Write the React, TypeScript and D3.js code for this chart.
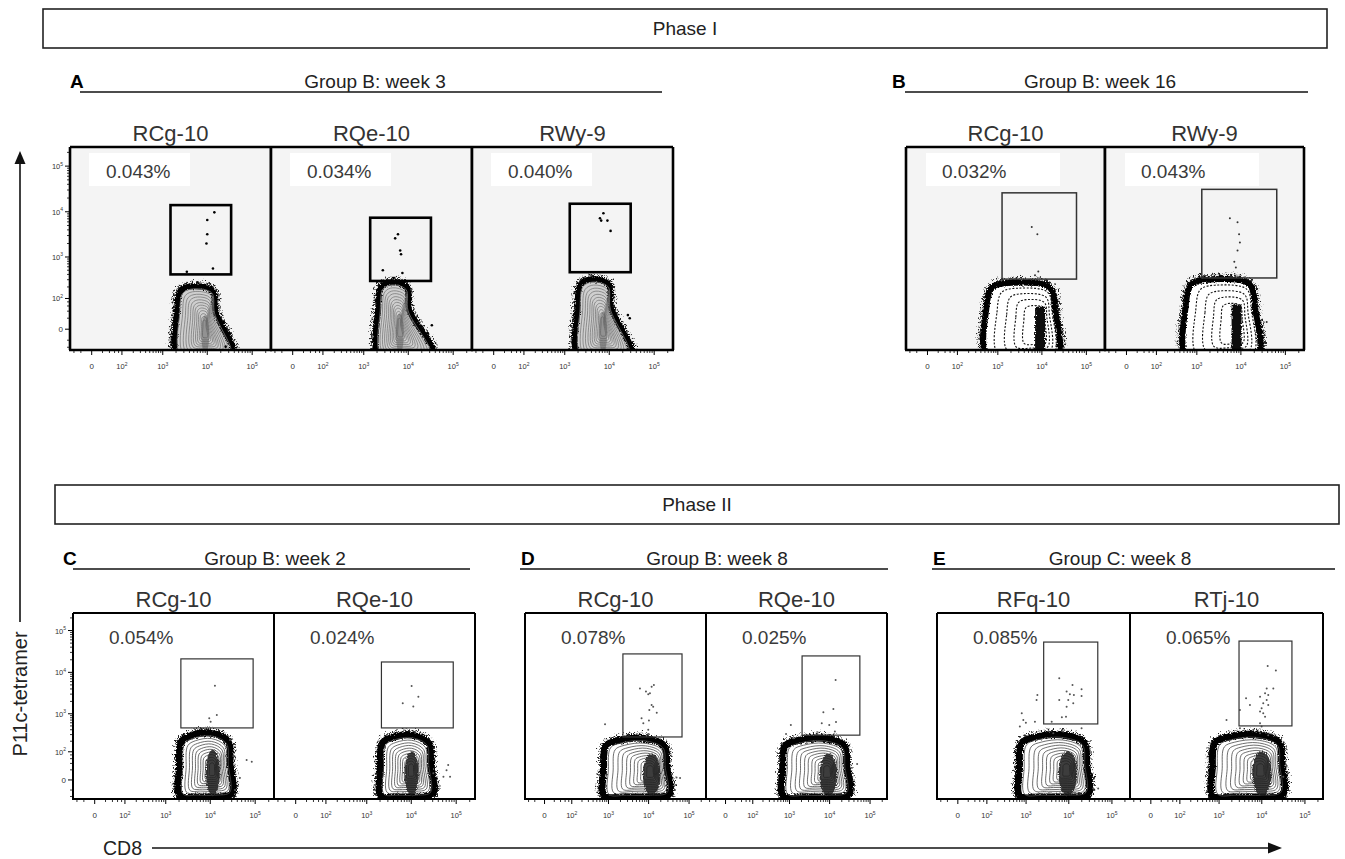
import React from "react";
import * as d3 from "d3";

const FONT = "'Liberation Sans', Arial, Helvetica, sans-serif";

// ---------- data ----------
const phaseLabels = ["Phase I", "Phase II"];
const groupLetters = ["A", "B", "C", "D", "E"];
const groupTitles = [
  "Group B: week 3",
  "Group B: week 16",
  "Group B: week 2",
  "Group B: week 8",
  "Group C: week 8",
];
const animalNames = [
  ["RCg-10", "RQe-10", "RWy-9"],
  ["RCg-10", "RWy-9"],
  ["RCg-10", "RQe-10"],
  ["RCg-10", "RQe-10"],
  ["RFq-10", "RTj-10"],
];
// % of CD8+ cells inside the tetramer gate
const tetramerPercents = [
  [0.043, 0.034, 0.04],
  [0.032, 0.043],
  [0.054, 0.024],
  [0.078, 0.025],
  [0.085, 0.065],
];
// tetramer+ gate: [CD8 low, CD8 high, tetramer low, tetramer high]
const gateBounds = [
  [[1500, 34000, 400, 14000], [1400, 32000, 280, 7400], [1300, 30000, 450, 15000]],
  [[1250, 60000, 310, 26000], [1300, 64000, 330, 31000]],
  [[2200, 90000, 445, 21000], [2150, 86000, 445, 17700]],
  [[2300, 67000, 260, 27600], [2070, 56000, 290, 24700]],
  [[2600, 47000, 560, 53000], [2950, 50000, 500, 56000]],
];
// bulk CD8+ tetramer- population: [CD8 left edge, CD8 shoulder, CD8 tail, tetramer top, CD8 mode]
const bulkPopulations = [
  [[2150, 15300, 39000, 200, 9000], [2170, 10400, 37500, 250, 6500], [2000, 11000, 32000, 295, 7300]],
  [[550, 19800, 22000, 245, 9100], [560, 20800, 24000, 295, 8000]],
  [[2100, 27500, 30000, 290, 11400], [2100, 27000, 30000, 260, 10200]],
  [[770, 28000, 32000, 215, 11900], [690, 26500, 30000, 215, 9300]],
  [[710, 26000, 28000, 265, 9500], [710, 29000, 31000, 265, 10000]],
];
// individual events drawn as dots: [CD8, tetramer]
const singleEvents = [
  [
    [[14400, 9700], [10000, 6600], [10000, 3200], [9600, 2000], [13400, 550], [3500, 460],
     [23300, 12], [31800, -6], [35000, -28], [25700, -38]],
    [[5900, 3200], [5100, 2600], [6600, 1400], [6900, 1150], [2700, 500], [7400, 430], [4700, 330],
     [33500, 6], [27300, -6], [37000, -36]],
    [[7400, 9300], [6200, 7200], [6600, 6400], [9100, 6400], [10700, 3800],
     [26000, 28], [28600, 20], [21000, 0], [31800, -46]],
  ],
  [
    [[5900, 4600], [7900, 3200], [8300, 470], [7000, 380]],
    [[5650, 7200], [8400, 5900], [9100, 3200], [9500, 2100], [8400, 1400], [7100, 780], [7700, 580], [38000, 12]],
  ],
  [
    [[12700, 4800], [14000, 930], [9500, 780], [10200, 640],
     [32700, 74], [64500, 54], [84000, 46], [45500, 3], [35600, -20], [27500, 215], [23300, 140]],
    [[10200, 4700], [14400, 2600], [6450, 1800], [11100, 1500],
     [66500, 34], [61000, 19], [52000, 5], [73000, 5], [31000, 12], [26000, -5]],
  ],
  [
    [[6100, 4100], [8600, 3450], [9800, 3000], [11900, 4500], [13500, 5000], [10800, 3150], [11900, 1640],
     [13000, 1490], [10400, 1240], [15900, 1060], [6700, 775], [10200, 680], [7400, 580], [9800, 400],
     [10000, 310], [815, 550], [45000, -20], [60000, 3], [49000, 4]],
    [[14100, 6600], [7000, 1090], [12400, 1300], [6400, 580], [9800, 525], [14400, 630], [13500, 360],
     [1080, 525], [815, 310], [1240, 240], [48000, 38], [40000, -21]],
  ],
  [
    [[6000, 7200], [12200, 5000], [19800, 3950], [8900, 3450], [10600, 3000], [13100, 2870], [19800, 2700],
     [6000, 2150], [9700, 2150], [12700, 1800], [8900, 1490], [8600, 850], [6900, 825], [4000, 635],
     [1850, 2870], [1770, 2150], [790, 1030], [860, 705], [990, 600], [1620, 635], [710, 480],
     [19800, 435], [7400, 360], [4350, 325], [36800, -16], [48000, -16]],
    [[13700, 14200], [21200, 11000], [13000, 4100], [18500, 4100], [11900, 3150], [14100, 2870], [9100, 2600],
     [13000, 2150], [10800, 1800], [14100, 1640], [9900, 1360], [9100, 1130], [10800, 1030], [11900, 850],
     [4300, 2380], [5300, 1640], [3100, 1240], [1500, 705], [9100, 580], [9900, 480], [6300, 395],
     [3100, 435], [9100, 325], [14100, 290], [37500, 29], [41000, 12], [31500, 5]],
  ],
];
const majorTicks = [0, 1e2, 1e3, 1e4, 1e5];

// ---------- layout ----------
const LIN_C = 27;
const X_DOMAIN: [number, number] = [-55, 262144];
const Y_DOMAIN: [number, number] = [-50, 262144];

const phaseBoxes = [
  { x: 43, y: 9, w: 1284, h: 39 },
  { x: 55, y: 485, w: 1284, h: 39 },
];

type Frame = {
  x0: number; w: number; y0: number; h: number;
  lineX1: number; lineX2: number; lineY: number; titleX: number;
  letterX: number; style: "A" | "B" | "C"; yLabels: boolean; frameW: number;
};
const groupFrames: Frame[] = [
  { x0: 70, w: 201, y0: 147, h: 203, lineX1: 80, lineX2: 662, lineY: 92, titleX: 375, letterX: 70, style: "A", yLabels: true, frameW: 2.6 },
  { x0: 906, w: 199, y0: 147, h: 203, lineX1: 905, lineX2: 1308, lineY: 92, titleX: 1100, letterX: 892, style: "B", yLabels: false, frameW: 2.6 },
  { x0: 73, w: 201, y0: 613, h: 186, lineX1: 73, lineX2: 470, lineY: 569, titleX: 275, letterX: 63, style: "C", yLabels: true, frameW: 2 },
  { x0: 525, w: 181, y0: 613, h: 186, lineX1: 520, lineX2: 888, lineY: 569, titleX: 717, letterX: 521, style: "C", yLabels: false, frameW: 2 },
  { x0: 937, w: 193, y0: 613, h: 186, lineX1: 932, lineX2: 1335, lineY: 569, titleX: 1120, letterX: 933, style: "C", yLabels: false, frameW: 2 },
];

const minorTicks: number[] = [-40, -20, 20, 40, 60, 80];
[2, 3, 4].forEach((k) => {
  for (let d = 2; d <= 9; d++) minorTicks.push(d * Math.pow(10, k));
});
minorTicks.push(2e5);

const closed = d3.line<[number, number]>().curve(d3.curveCatmullRomClosed.alpha(0.5));

function makeX(x0: number, w: number) {
  return d3.scaleSymlog().constant(LIN_C).domain(X_DOMAIN).range([x0, x0 + w]);
}
function makeY(y0: number, h: number) {
  return d3.scaleSymlog().constant(LIN_C).domain(Y_DOMAIN).range([y0 + h, y0]);
}

function TickLabel({ v, x, y, anchor }: { v: number; x: number; y: number; anchor: "middle" | "end" }) {
  if (v === 0)
    return (
      <text x={x} y={y} fontSize={8} textAnchor={anchor} fill="#333">0</text>
    );
  const e = Math.round(Math.log10(v));
  return (
    <text x={x} y={y} fontSize={7.5} textAnchor={anchor} fill="#333">
      10<tspan dy={-3.5} fontSize={5}>{e}</tspan>
    </text>
  );
}

function Population({ pop, sx, sy, yb, style }: any) {
  const [L, S, T, top, mode] = pop;
  const xl = sx(L), xs = sx(S), xt = sx(T), yt = sy(top), xc = sx(mode);
  const hh = yb - yt;
  const ww = xs - xl;
  const base = style === "C" ? yb - 3 : yb + 6;
  const outline: [number, number][] =
    style === "C"
      ? [
          [xl, base],
          [xl - 0.5, yt + 0.5 * hh],
          [xl + 0.03 * ww, yt + 0.1 * hh],
          [xl + 0.22 * ww, yt + 0.01 * hh],
          [xl + 0.62 * ww, yt - 0.03 * hh],
          [xs - 0.04 * ww, yt + 0.1 * hh],
          [xs, yt + 0.45 * hh],
          [xt, base - 2],
          [xl + 0.7 * (xt - xl), base + 1],
          [xl + 0.3 * (xt - xl), base + 1],
        ]
      : [
          [xl, base],
          [xl - 0.5, yt + 0.4 * hh],
          [xl + 0.08 * ww, yt + 0.06 * hh],
          [xl + 0.4 * ww, yt - 0.01 * hh],
          [xs - 0.08 * ww, yt + 0.06 * hh],
          [xs, yt + 0.4 * hh],
          [xt, base],
          [(xl + xt) / 2, base + 2],
        ];
  const ya = yb - (style === "C" ? 0.45 : 0.3) * hh;
  const levels =
    style === "A"
      ? [0.9, 0.8, 0.7, 0.61, 0.52, 0.44, 0.37, 0.3, 0.24, 0.18, 0.13, 0.08]
      : style === "B"
      ? [0.8, 0.62, 0.45, 0.3]
      : [0.9, 0.8, 0.7, 0.61, 0.52, 0.44, 0.36, 0.29, 0.22, 0.16, 0.1];
  const yPow = style === "C" ? 0.7 : 0.55;
  const rings = levels.map((t) => {
    const ty = Math.pow(t, yPow);
    return outline.map(([x, y]) => [xc + (x - xc) * t, ya + (y - ya) * ty] as [number, number]);
  });
  const fill = style === "A" ? "#cfcfcf" : "#fff";
  const ringColor = style === "A" ? "#7a7a7a" : style === "B" ? "#111" : "#4a4a4a";
  return (
    <g>
      <path d={closed(outline)!} fill="none" stroke="#000" strokeWidth={11}
        strokeDasharray="1.6 2.2" filter="url(#speckle)" opacity={0.85} />
      <path d={closed(outline)!} fill={fill} stroke="#000" strokeWidth={style === "C" ? 7 : 6} filter="url(#rough)" />
      {rings.map((r, i) => (
        <path key={i} d={closed(r)!} fill="none" stroke={ringColor}
          strokeWidth={style === "B" ? 1.1 : 0.8}
          strokeDasharray={style === "B" ? "2 1.6" : undefined} />
      ))}
      {style === "B" ? (
        <rect x={xc - 5} y={yt + 0.35 * hh} width={10} height={hh} fill="#111" filter="url(#rough)" />
      ) : style === "A" ? (
        <ellipse cx={xc} cy={ya + 0.05 * hh} rx={Math.max(4, 0.1 * ww)} ry={0.3 * hh}
          fill="#555" opacity={0.5} />
      ) : (
        <ellipse cx={xc} cy={ya + 0.04 * hh} rx={Math.max(5, 0.14 * ww)} ry={0.36 * hh}
          fill="#1c1c1c" opacity={0.85} filter="url(#rough)" />
      )}
    </g>
  );
}

function Panel({ g, p, f }: { g: number; p: number; f: Frame }) {
  const x0 = f.x0 + p * f.w;
  const sx = makeX(x0, f.w);
  const sy = makeY(f.y0, f.h);
  const yb = f.y0 + f.h;
  const gate = gateBounds[g][p];
  const clipId = `clip-${g}-${p}`;
  const bg = f.style === "C" ? "#fff" : "#f4f4f4";
  const gateStroke = f.style === "A" ? 2.6 : f.style === "B" ? 1.5 : 1.2;
  const gateColor = f.style === "A" ? "#000" : "#333";
  const dotR = f.style === "A" ? 1.3 : 1;
  const dotColor = f.style === "A" ? "#000" : f.style === "B" ? "#333" : "#555";
  return (
    <g>
      <defs>
        <clipPath id={clipId}>
          <rect x={x0} y={f.y0} width={f.w} height={f.h} />
        </clipPath>
      </defs>
      <rect x={x0} y={f.y0} width={f.w} height={f.h} fill={bg} />
      {f.style !== "C" && (
        <rect x={x0 + (f.style === "A" ? 19 : 20)} y={f.y0 + 6} width={f.style === "A" ? 101 : 134} height={33} fill="#fff" />
      )}
      <text x={x0 + 36} y={f.y0 + 31} fontSize={19} fill="#3a3a3a">
        {tetramerPercents[g][p].toFixed(3)}%
      </text>
      <g clipPath={`url(#${clipId})`}>
        <Population pop={bulkPopulations[g][p]} sx={sx} sy={sy} yb={yb} style={f.style} />
        {singleEvents[g][p].map(([cx, ty], i) => (
          <circle key={i} cx={sx(cx)} cy={sy(ty)} r={dotR} fill={dotColor} />
        ))}
      </g>
      <rect
        x={sx(gate[0])}
        y={sy(gate[3])}
        width={sx(gate[1]) - sx(gate[0])}
        height={sy(gate[2]) - sy(gate[3])}
        fill="none"
        stroke={gateColor}
        strokeWidth={gateStroke}
      />
      {/* x axis ticks */}
      {majorTicks.map((v) => (
        <line key={"M" + v} x1={sx(v)} x2={sx(v)} y1={yb} y2={yb + 5} stroke="#000" strokeWidth={1} />
      ))}
      {minorTicks.map((v) => (
        <line key={"m" + v} x1={sx(v)} x2={sx(v)} y1={yb} y2={yb + 3} stroke="#000" strokeWidth={0.8} />
      ))}
      {majorTicks.map((v) => (
        <TickLabel key={"L" + v} v={v} x={sx(v)} y={yb + 19} anchor="middle" />
      ))}
      {p === 0 && f.yLabels && (
        <g>
          {majorTicks.map((v) => (
            <line key={"yM" + v} x1={x0 - 5} x2={x0} y1={sy(v)} y2={sy(v)} stroke="#000" strokeWidth={1} />
          ))}
          {minorTicks.map((v) => (
            <line key={"ym" + v} x1={x0 - 3} x2={x0} y1={sy(v)} y2={sy(v)} stroke="#000" strokeWidth={0.8} />
          ))}
          {majorTicks.map((v) => (
            <TickLabel key={"yL" + v} v={v} x={x0 - 7} y={sy(v) + 3} anchor="end" />
          ))}
        </g>
      )}
      {/* frame: left, top, right borders and bottom axis line */}
      <line x1={x0} x2={x0 + f.w} y1={f.y0} y2={f.y0} stroke="#000" strokeWidth={f.frameW} />
      <line x1={x0} x2={x0} y1={f.y0} y2={yb} stroke="#000" strokeWidth={f.frameW} />
      <line x1={x0 + f.w} x2={x0 + f.w} y1={f.y0} y2={yb} stroke="#000" strokeWidth={f.frameW} />
      <line x1={x0 - 1} x2={x0 + f.w + 1} y1={yb} y2={yb} stroke="#000" strokeWidth={f.frameW} />
      <text x={x0 + f.w / 2} y={f.y0 - 6} fontSize={22} textAnchor="middle" fill="#333">
        {animalNames[g][p]}
      </text>
    </g>
  );
}

export default function App() {
  return (
    <div style={{ position: "absolute", left: 0, top: 0 }}>
      <svg width={1345} height={859} fontFamily={FONT} style={{ display: "block", background: "#fff" }}>
        <defs>
          <filter id="rough" x="-20%" y="-20%" width="140%" height="140%">
            <feTurbulence type="fractalNoise" baseFrequency="0.9" numOctaves={2} seed={4} result="n" />
            <feDisplacementMap in="SourceGraphic" in2="n" scale={4} xChannelSelector="R" yChannelSelector="G" />
          </filter>
          <filter id="speckle" x="-20%" y="-20%" width="140%" height="140%">
            <feTurbulence type="fractalNoise" baseFrequency="0.6" numOctaves={2} seed={9} result="n" />
            <feDisplacementMap in="SourceGraphic" in2="n" scale={9} xChannelSelector="R" yChannelSelector="G" />
          </filter>
        </defs>
        {phaseBoxes.map((b, i) => (
          <g key={i}>
            <rect x={b.x} y={b.y} width={b.w} height={b.h} fill="#fff" stroke="#222" strokeWidth={1.6} />
            <text x={b.x + b.w / 2} y={b.y + 26} fontSize={19} textAnchor="middle" fill="#222">
              {phaseLabels[i]}
            </text>
          </g>
        ))}
        {groupFrames.map((f, g) => (
          <g key={g}>
            <line x1={f.lineX1} x2={f.lineX2} y1={f.lineY} y2={f.lineY} stroke="#111" strokeWidth={1.6} />
            <text x={f.titleX} y={f.lineY - 4} fontSize={19} textAnchor="middle" fill="#222">
              {groupTitles[g]}
            </text>
            <text x={f.letterX} y={f.lineY - 4} fontSize={19} fontWeight="bold" fill="#000">
              {groupLetters[g]}
            </text>
            {animalNames[g].map((_, p) => (
              <Panel key={p} g={g} p={p} f={f} />
            ))}
          </g>
        ))}
        {/* tetramer axis arrow */}
        <line x1={20} x2={20} y1={622} y2={160} stroke="#111" strokeWidth={1.6} />
        <polygon points="20,151 14.5,164 25.5,164" fill="#111" />
        <text transform="translate(27,694) rotate(-90)" fontSize={20} textAnchor="middle" fill="#222">
          P11c-tetramer
        </text>
        {/* CD8 axis arrow */}
        <text x={103} y={855} fontSize={19.5} fill="#222">CD8</text>
        <line x1={152} x2={1270} y1={848} y2={848} stroke="#111" strokeWidth={1.6} />
        <polygon points="1282,848 1268,842.5 1268,853.5" fill="#111" />
      </svg>
    </div>
  );
}
